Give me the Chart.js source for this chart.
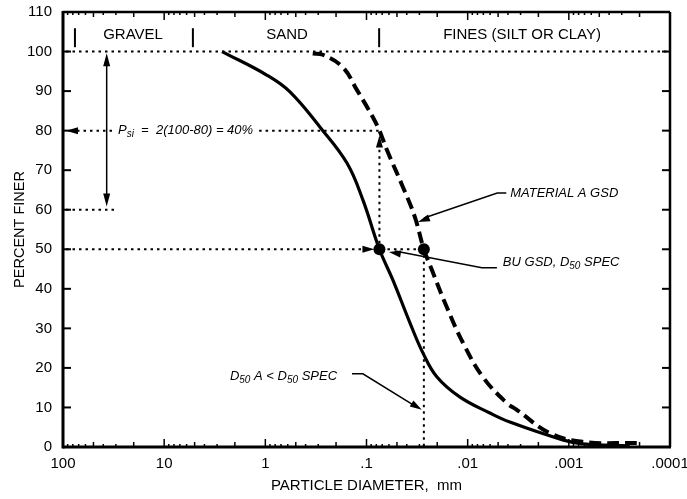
<!DOCTYPE html>
<html>
<head>
<meta charset="utf-8">
<script src="https://cdn.jsdelivr.net/npm/chart.js@4.4.1/dist/chart.umd.min.js"></script>
<style>
	html, body { margin: 0; padding: 0; background: #fff; }
	canvas { display: block; }
</style>
</head>
<body>
<canvas id="gsd-chart" width="687" height="499"></canvas>
<script>
(function () {
	'use strict';

	var FONT = '"Liberation Sans", Arial, Helvetica, sans-serif';

	// BU grain size distribution (solid): diameter in mm, percent finer.
	var BU_DIAM = [2.68, 0.96, 0.571, 0.28, 0.156, 0.1086, 0.0745, 0.0548, 0.0372, 0.0277, 0.0201, 0.0119, 0.00604, 0.00383, 0.00115, 0.00073, 0.00025];
	var BU_PCT  = [100, 94, 89.8, 80.5, 71.8, 62.5, 50, 42.2, 31.4, 23.8, 17.7, 12.6, 8.6, 6.3, 1.8, 0.8, 0.3];

	// Material A grain size distribution (dashed).
	var MAT_A_DIAM = [0.34, 0.27, 0.171, 0.1245, 0.0865, 0.0745, 0.0628, 0.0436, 0.0333, 0.0271, 0.0226, 0.0161, 0.0111, 0.00708, 0.0041, 0.00327, 0.00154, 0.00073, 0.000213];
	var MAT_A_PCT  = [99.5, 99.2, 96, 90.3, 83.4, 80, 75.1, 65.7, 58.2, 50, 44.8, 35.4, 26.3, 17.7, 11.1, 9.4, 3.5, 1.3, 1.0];

	// D50 markers: BU spec and material A.
	var D50_DIAM = [0.0745, 0.0271];
	var D50_PCT  = [50, 50];

	// Axis ticks.
	var X_TICKS  = [100, 10, 1, 0.1, 0.01, 0.001, 0.0001];
	var X_LABELS = ['100', '10', '1', '.1', '.01', '.001', '.0001'];
	var Y_TICKS  = [0, 10, 20, 30, 40, 50, 60, 70, 80, 90, 100, 110];

	// Soil classes along the top.
	var ZONE_LABELS = ['GRAVEL', 'SAND', 'FINES (SILT OR CLAY)'];
	var ZONE_CENTERS = [20.3, 0.61, 0.0029];
	var ZONE_BOUNDS = [76.2, 5.2, 0.075];

	function pts(xs, ys) {
		return xs.map(function (x, i) { return { x: x, y: ys[i] }; });
	}

	function seg(ctx, x1, y1, x2, y2) {
		ctx.beginPath();
		ctx.moveTo(x1, y1);
		ctx.lineTo(x2, y2);
		ctx.stroke();
	}

	function arrow(ctx, tx, ty, fx, fy, len, hw) {
		var a = Math.atan2(ty - fy, tx - fx);
		var c = Math.cos(a), s = Math.sin(a);
		ctx.beginPath();
		ctx.moveTo(tx, ty);
		ctx.lineTo(tx - len * c + hw * s, ty - len * s - hw * c);
		ctx.lineTo(tx - len * c - hw * s, ty - len * s + hw * c);
		ctx.closePath();
		ctx.fill();
	}

	// italic text with subscripts, returns end x
	function rich(ctx, x, y, parts) {
		parts.forEach(function (p) {
			ctx.font = (p.sub ? 'italic 10px ' : 'italic 13px ') + FONT;
			ctx.fillText(p.t, x, p.sub ? y + 4 : y);
			x += ctx.measureText(p.t).width;
		});
		return x;
	}

	function noPad(s) {
		s.paddingLeft = 0; s.paddingRight = 0;
		s.paddingTop = 0; s.paddingBottom = 0;
	}

	var annotations = {
		id: 'gsdAnnotations',
		afterDatasetsDraw: function (chart) {
			var ctx = chart.ctx, a = chart.chartArea;
			var X = function (v) { return chart.scales.x.getPixelForValue(v); };
			var Y = function (v) { return chart.scales.y.getPixelForValue(v); };
			var bx = X(D50_DIAM[0]), ax = X(D50_DIAM[1]), y50 = Y(50);
			var k, m;

			ctx.save();
			ctx.fillStyle = '#000';
			ctx.strokeStyle = '#000';
			ctx.textAlign = 'left';
			ctx.textBaseline = 'middle';

			// P_si text first, so the dotted line can break round it
			var psiStart = X(28.6);
			var psiEnd = rich(ctx, psiStart, Y(80), [
				{ t: 'P' }, { t: 'si', sub: true }, { t: '  =  2(100-80) = 40%' }
			]);

			// dotted guide lines
			ctx.lineWidth = 2;
			ctx.setLineDash([2.5, 4]);
			seg(ctx, a.left + 3, Y(100), a.right, Y(100));
			seg(ctx, a.left + 3, Y(60), X(29.3), Y(60));
			seg(ctx, a.left + 14, Y(80), psiStart - 5, Y(80));
			seg(ctx, psiEnd + 6, Y(80), bx, Y(80));
			seg(ctx, a.left + 3, y50, bx - 16, y50);
			seg(ctx, bx + 8, y50, ax - 6, y50);
			seg(ctx, bx, y50 - 6, bx, Y(78.8) + 10);
			seg(ctx, ax, y50 + 6, ax, a.bottom);
			ctx.setLineDash([]);

			// frame
			ctx.lineWidth = 3;
			seg(ctx, a.left, a.top - 1, a.left, a.bottom + 1.5);
			seg(ctx, a.left, a.bottom, a.right + 1, a.bottom);
			ctx.lineWidth = 2.5;
			seg(ctx, a.left, a.top, a.right, a.top);
			seg(ctx, a.right, a.top, a.right, a.bottom);

			// ticks, pointing inward
			ctx.lineWidth = 2;
			Y_TICKS.forEach(function (v) {
				seg(ctx, a.left, Y(v), a.left + 8, Y(v));
				seg(ctx, a.right - 8, Y(v), a.right, Y(v));
			});
			ctx.lineWidth = 1.5;
			for (k = -4; k <= 1; k++) {
				for (m = 1; m <= 9; m++) {
					var v = m * Math.pow(10, k);
					var len = m === 1 ? 8 : (m === 2 || m === 5 ? 5 : 3);
					var x = X(v);
					seg(ctx, x, a.bottom, x, a.bottom - len);
					seg(ctx, x, a.top, x, a.top + len);
				}
			}

			// class separators and labels
			ctx.lineWidth = 2;
			ZONE_BOUNDS.forEach(function (d) {
				seg(ctx, X(d), Y(105.9), X(d), Y(101.1));
			});
			ctx.font = '15px ' + FONT;
			ctx.textAlign = 'center';
			ZONE_LABELS.forEach(function (t, j) {
				ctx.fillText(t, X(ZONE_CENTERS[j]), Y(104.2));
			});
			ctx.textAlign = 'left';

			// double arrow 100 -> 60
			ctx.lineWidth = 1.5;
			var dx = X(37);
			seg(ctx, dx, Y(99.6) + 8, dx, Y(60.8) - 8);
			arrow(ctx, dx, Y(99.6), dx, Y(90), 13, 3.5);
			arrow(ctx, dx, Y(60.8), dx, Y(70), 13, 3.5);

			// arrowheads on dotted lines
			arrow(ctx, a.left + 3, Y(80), a.left + 20, Y(80), 12, 3.5);
			arrow(ctx, bx - 5, y50, bx - 30, y50, 12, 3.5);
			arrow(ctx, bx, Y(78.8), bx, Y(70), 12, 3.5);

			// MATERIAL A GSD leader
			ctx.lineWidth = 1.5;
			ctx.beginPath();
			ctx.moveTo(X(0.00415), Y(64.2));
			ctx.lineTo(X(0.0051), Y(64.2));
			ctx.lineTo(X(0.031) + 6, Y(56.9) - 4);
			ctx.stroke();
			arrow(ctx, X(0.031), Y(56.9), X(0.0051), Y(64.2), 12, 3.5);
			rich(ctx, X(0.0038), Y(64.2), [{ t: 'MATERIAL A GSD' }]);

			// BU GSD leader
			ctx.beginPath();
			ctx.moveTo(X(0.00514), Y(45.3));
			ctx.lineTo(X(0.00724), Y(45.3));
			ctx.lineTo(X(0.0601) + 6, Y(49.3) - 1);
			ctx.stroke();
			arrow(ctx, X(0.0601), Y(49.3), X(0.00724), Y(45.3), 12, 3.5);
			rich(ctx, X(0.00449), Y(46.8), [
				{ t: 'BU GSD, D' }, { t: '50', sub: true }, { t: ' SPEC' }
			]);

			// D50 A < D50 SPEC leader
			ctx.beginPath();
			ctx.moveTo(X(0.139), Y(18.5));
			ctx.lineTo(X(0.1086), Y(18.5));
			ctx.lineTo(X(0.0284) - 7, Y(9.4) - 4);
			ctx.stroke();
			arrow(ctx, X(0.0284), Y(9.4), X(0.1086), Y(18.5), 12, 3.5);
			rich(ctx, X(2.24), Y(17.8), [
				{ t: 'D' }, { t: '50', sub: true }, { t: ' A < D' }, { t: '50', sub: true }, { t: ' SPEC' }
			]);

			ctx.restore();
		}
	};

	Chart.defaults.font.family = FONT;
	Chart.defaults.color = '#000';

	new Chart(document.getElementById('gsd-chart'), {
		type: 'line',
		data: {
			datasets: [{
				label: 'BU GSD',
				data: pts(BU_DIAM, BU_PCT),
				borderColor: '#000',
				borderWidth: 3.2,
				pointRadius: 0,
				tension: 0.4,
				fill: false
			}, {
				label: 'Material A GSD',
				data: pts(MAT_A_DIAM, MAT_A_PCT),
				borderColor: '#000',
				borderWidth: 4,
				borderDash: [12, 6],
				pointRadius: 0,
				tension: 0.4,
				fill: false
			}, {
				label: 'D50',
				data: pts(D50_DIAM, D50_PCT),
				showLine: false,
				pointRadius: 6,
				pointBorderWidth: 0,
				pointBackgroundColor: '#000'
			}]
		},
		options: {
			responsive: false,
			animation: false,
			devicePixelRatio: 1,
			layout: { padding: { top: 12, right: 17, left: 0, bottom: 0 } },
			plugins: { legend: { display: false }, tooltip: { enabled: false } },
			scales: {
				x: {
					type: 'logarithmic',
					min: 0.0001,
					max: 100,
					reverse: true,
					afterBuildTicks: function (s) {
						s.ticks = X_TICKS.map(function (v) { return { value: v }; });
					},
					afterFit: function (s) { s.height = 52; noPad(s); },
					grid: { display: false, drawTicks: false },
					border: { display: false },
					ticks: {
						autoSkip: false,
						maxRotation: 0,
						padding: 8,
						font: { size: 15 },
						callback: function (v, i) { return X_LABELS[i]; }
					},
					title: {
						display: true,
						text: 'PARTICLE DIAMETER,  mm',
						font: { size: 15 },
						padding: { top: 0, bottom: 4 }
					}
				},
				y: {
					min: 0,
					max: 110,
					afterBuildTicks: function (s) {
						s.ticks = Y_TICKS.map(function (v) { return { value: v }; });
					},
					afterFit: function (s) { s.width = 63; noPad(s); },
					grid: { display: false, drawTicks: false },
					border: { display: false },
					ticks: { padding: 11, font: { size: 15 } },
					title: {
						display: true,
						text: 'PERCENT FINER',
						font: { size: 14.5 },
						padding: { top: 11, bottom: 0 }
					}
				}
			}
		},
		plugins: [annotations]
	});
})();
</script>
</body>
</html>
